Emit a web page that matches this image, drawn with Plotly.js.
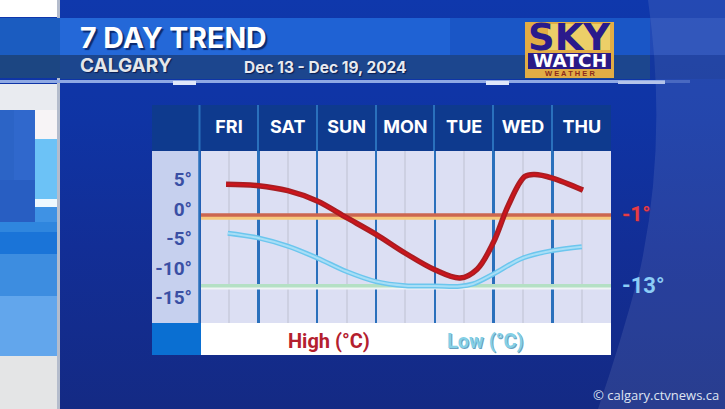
<!DOCTYPE html>
<html>
<head>
<meta charset="utf-8">
<script src="https://cdn.plot.ly/plotly-3.0.1.min.js"></script>
<style>
html,body{margin:0;padding:0;width:725px;height:409px;overflow:hidden;background:linear-gradient(180deg,#0f38ac 0%,#0f34a4 30%,#122e96 60%,#142a84 100%);}
#c{width:725px;height:409px;}
</style>
</head>
<body>
<div id="c"></div>
<script>
const dayLabels = ['FRI','SAT','SUN','MON','TUE','WED','THU'];
const dayCentres = [0,1,2,3,4,5,6];
const dayEdges = [0.5,1.5,2.5,3.5,4.5,5.5];
const tempTicks = [5,0,-5,-10,-15];
const tempTickLabels = ['5°','0°','-5°','-10°','-15°'];

const highX = [-0.05,0.5,1,1.5,2,2.5,3,3.5,3.93,4.22,4.5,4.75,5.03,5.2,5.5,6.02];
const highY = [4.2,3.95,3.1,1.36,-1.47,-4.3,-7.5,-10.3,-11.7,-10.2,-5.6,0.6,5.5,5.85,5.25,3.2];
const lowX = [-0.02,0.5,1,1.5,2,2.5,3,3.5,3.93,4.15,4.5,5,5.5,6];
const lowY = [-4.1,-4.9,-6.3,-8.3,-10.6,-12.3,-13,-13.05,-13.1,-12.7,-11,-8.3,-7.05,-6.4];
const normalX = [-0.5,6.5];
const normalHigh = [-1,-1];
const normalHighEdge = [-1.5,-1.5];
const normalLow = [-13,-13];
const normalLowEdge = [-13.35,-13.35];

const fx = p => p/725, fy = p => 1-p/409;
function box(x0,y0,x1,y1,color,layer){
  return {type:'rect',xref:'paper',yref:'paper',x0:fx(x0),x1:fx(x1),y0:fy(y0),y1:fy(y1),
    fillcolor:color,line:{width:0},layer:layer||'below'};
}
const shapes = [
  // left picture strip
  box(0,0,57,17,'#ffffff'),
  box(0,84,57,110,'#e9ebf0'),
  box(35,110,57,139,'#f7f4f6'),
  box(0,110,35,222,'#2c64c6'),
  box(14,110,35,222,'#3068cc'),
  box(0,180,35,222,'#285ec2'),
  box(35,139,57,199,'#6cc2f6'),
  box(35,199,57,207,'#eef8fe'),
  box(35,207,57,222,'#3f92e4'),
  box(0,222,57,232,'#2f86de'),
  box(0,232,57,254,'#1a74d8'),
  box(0,254,57,296,'#3d8de0'),
  box(0,296,57,356,'#62a6ec'),
  box(0,356,57,409,'#e4e5e6'),
  box(57,0,60,409,'#b4bccc'),
  // lighter sweep on the right
  {type:'path',xref:'paper',yref:'paper',layer:'below',line:{width:0},fillcolor:'rgba(255,255,255,0.09)',
   path:'M '+fx(648)+' '+fy(0)+' Q '+fx(668)+' '+fy(140)+' '+fx(640)+' '+fy(270)+' Q '+fx(620)+' '+fy(345)+' '+fx(598)+' '+fy(409)+' L 1 '+fy(409)+' L 1 1 Z'},
  // title bands
  box(0,18,60,55,'#1b5cc0'),
  box(0,55,60,78,'#1c4682'),
  box(60,18,250,55,'#2468d8'),
  box(250,18,450,55,'#1f62d4'),
  box(450,18,650,55,'#1a56c6'),
  box(650,18,725,55,'rgba(90,130,220,0.25)'),
  box(60,55,650,79,'#1c468e'),
  box(650,55,725,79,'rgba(30,60,130,0.25)'),
  box(0,80,665,83,'#8fa9e4'),
  box(665,80,690,83,'rgba(143,169,228,0.35)'),
  box(173,81,196,85,'#dfe8fa'),
  box(486,81,509,85,'#dfe8fa'),
  box(618,81,665,84,'#b4c4ea'),
  // logo
  box(525,22,614,78,'#e2ad45'),
  box(548,24,610,50,'#eccf68'),
  box(528,53,611,69,'#2a1a86'),
  // chart panel
  box(152,105,611,151,'#0e3a8e'),
  box(152,151,199,323,'#c6d0ee'),
  box(201,151,611,323,'#dcdff3'),
  box(152,323,201,355,'#0a6fd2'),
  box(201,323,611,355,'#ffffff')
];
// day dividers carried through the header band and the axis column
[199.5,258,317,376,434,493,552].forEach(p => {
  shapes.push({type:'line',xref:'paper',yref:'paper',layer:'below',x0:fx(p),x1:fx(p),y0:fy(105),y1:fy(151),
    line:{color:'#2a70bc',width:2}});
});
shapes.push({type:'line',xref:'paper',yref:'paper',layer:'below',x0:fx(199.5),x1:fx(199.5),y0:fy(151),y1:fy(323),line:{color:'#2a70bc',width:2.5}});

function note(text,px,py,size,color,opts){
  return Object.assign({xref:'paper',yref:'paper',x:fx(px),y:fy(py),text:text,showarrow:false,
    xanchor:'left',yanchor:'middle',
    font:{family:'Inter',size:size,color:color,weight:700}},opts||{});
}
const sh = '1px 1px 1px #0a1c50';
const annotations = [
  note('7 DAY TREND',78,38,28.5,'#ffffff',{font:{family:'Inter',size:28.5,color:'#ffffff',weight:700,shadow:'2px 2px 1px #0a2a70'}}),
  note('CALGARY',78,66,19,'#e4e6ea',{font:{family:'Inter',size:19,color:'#e4e6ea',weight:700,shadow:sh}}),
  note('Dec 13 - Dec 19, 2024',242,67,15.5,'#e8eaf0',{font:{family:'Inter',size:15.5,color:'#e8eaf0',weight:700,shadow:sh}}),
  note('SKY',569.5,37,37,'#2a1a8c',{xanchor:'center',font:{family:'DejaVu Sans',size:37,color:'#2a1a8c',weight:700}}),
  note('WATCH',569.5,61,18.5,'#ffffff',{xanchor:'center',font:{family:'DejaVu Sans',size:18.5,color:'#ffffff',weight:700}}),
  note('W E A T H E R',570,73.5,7.5,'#8c2a1c',{xanchor:'center',font:{family:'Liberation Sans',size:7.5,color:'#8c2a1c',weight:700}}),
  note('High (°C)',329,341,20,'#b4202e',{xanchor:'center',font:{family:'Roboto',size:20,color:'#b4202e',weight:700}}),
  note('Low (°C)',485,341,20,'#84d0e6',{xanchor:'center',font:{family:'Roboto',size:20,color:'#84d0e6',weight:700,shadow:'1px 1px 0 #6aa0c0'}}),
  note('-1°',620,214,21,'#e83c44',{font:{family:'Roboto',size:21,color:'#e83c44',weight:700,shadow:'1px 1px 1px #5a2a70'}}),
  note('-13°',620,285,22,'#8ccdf6',{font:{family:'Roboto',size:22,color:'#8ccdf6',weight:700}}),
  note('© calgary.ctvnews.ca',591,395,13,'#dfe4f2',{font:{family:'Open Sans',size:13,color:'#dfe4f2',weight:400}})
];
const curve = {shape:'spline',smoothing:1};
function tr(x,y,color,width,line){
  return {x:x,y:y,mode:'lines',type:'scatter',hoverinfo:'skip',showlegend:false,
    line:Object.assign({color:color,width:width},line||{})};
}
const data = [
  tr(normalX,normalHighEdge,'#f6c87c',4),
  tr(normalX,normalHigh,'#cc6650',3.5),
  tr(normalX,normalLowEdge,'#f0f4f6',3.5),
  tr(normalX,normalLow,'#b4e0c4',3.5),
  tr(lowX,lowY,'#6cc6ee',5,curve),
  tr(lowX,lowY,'#a8def6',2,curve),
  tr(highX,highY,'#a81e22',5.5,curve),
  tr(highX,highY,'#d0141c',2,curve)
];
const layout = {
  width:725,height:409,autosize:false,
  margin:{l:0,r:0,t:0,b:0,pad:0},
  paper_bgcolor:'rgba(0,0,0,0)',plot_bgcolor:'rgba(0,0,0,0)',
  showlegend:false,
  xaxis:{domain:[201/725,611/725],range:[-0.476,6.497],side:'top',anchor:'y',
    tickmode:'array',tickvals:dayCentres,ticktext:dayLabels,ticks:'',ticklabelstandoff:13,
    tickfont:{family:'Inter',size:18,color:'#ffffff',weight:700},
    showgrid:true,gridcolor:'#cdd0e2',gridwidth:2,zeroline:false,showline:false,
    minor:{tickmode:'array',tickvals:dayEdges,showgrid:true,gridcolor:'#2a70bc',gridwidth:2.5,ticks:''}},
  yaxis:{domain:[1-323/409,1-151/409],range:[-19.32,9.83],anchor:'x',
    tickmode:'array',tickvals:tempTicks,ticktext:tempTickLabels,ticks:'',ticklabelstandoff:8,
    tickfont:{family:'Roboto',size:19,color:'#3a4fa4',weight:700},
    showgrid:false,zeroline:false,showline:false},
  shapes:shapes,annotations:annotations
};
Plotly.newPlot('c',data,layout,{displayModeBar:false,staticPlot:true});
</script>
</body>
</html>
